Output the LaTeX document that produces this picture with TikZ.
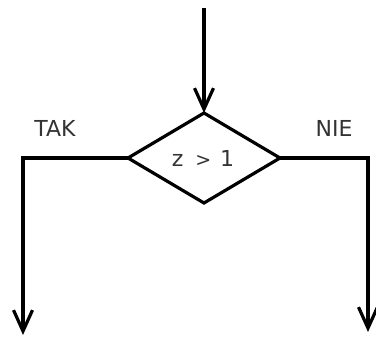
\documentclass[tikz,border=0pt]{standalone}
\usepackage{fontspec}
\setmainfont{DejaVu Sans}
\usetikzlibrary{shapes.geometric,arrows.meta}
\begin{document}
\begin{tikzpicture}[x=1pt,y=1pt,
  flow/.style={line width=3.2pt,line join=miter,-{Straight Barb[length=21pt,width=19pt]}},
  decision/.style={diamond,draw,line width=3.2pt,minimum width=152pt,minimum height=90pt,inner sep=0pt,outer sep=0pt},
  lbl/.style={text=black!80,font=\fontsize{22}{22}\selectfont}]
\useasboundingbox (0,0) rectangle (376,338);
\fill[white] (0,0) rectangle (376,338);
\coordinate (in) at (204,330);
\node[decision] (cond) at (204,180) {};
\node[lbl] (cmp) at (203,180) {z\hspace{12pt}{\fontsize{19}{19}\selectfont >}\hspace{9pt}1};
\coordinate (lc) at (23,180);
\coordinate (rc) at (368,180);
\coordinate (lout) at (23,3);
\coordinate (rout) at (368,6);
\node[lbl] (tak) at (55,210) {TAK};
\node[lbl] (nie) at (334,210) {NIE};
\draw[flow] (in) -- (cond.north);
\draw[flow] (cond.west) -- (lc) -- (lout);
\draw[flow] (cond.east) -- (rc) -- (rout);
\end{tikzpicture}
\end{document}
